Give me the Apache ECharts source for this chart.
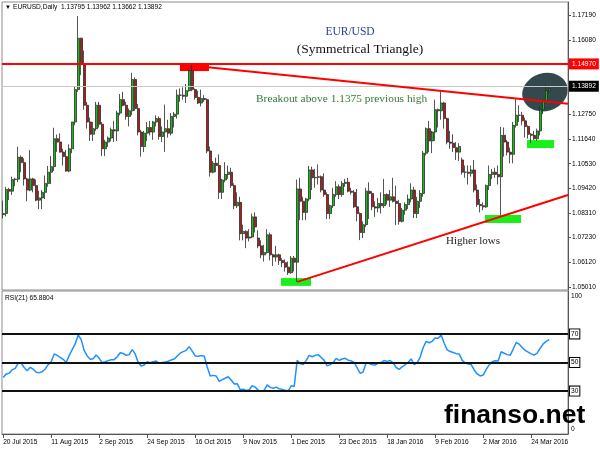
<!DOCTYPE html>
<html>
<head>
<meta charset="utf-8">
<script src="https://cdn.jsdelivr.net/npm/echarts@6/dist/echarts.min.js"></script>
<style>
  html, body { margin: 0; padding: 0; background: #fff; }
  #chart { width: 600px; height: 450px; }
</style>
</head>
<body>
<div id="chart"></div>
<script>
// date labels sit on these bar numbers
var tickBars = [0, 16, 32, 48, 64, 80, 96, 112, 128, 144, 160, 176];
var tickDates = ['20 Jul 2015', '11 Aug 2015', '2 Sep 2015', '24 Sep 2015', '16 Oct 2015', '9 Nov 2015',
  '1 Dec 2015', '23 Dec 2015', '18 Jan 2016', '9 Feb 2016', '2 Mar 2016', '24 Mar 2016'];
var priceTicks = [1.05010, 1.06120, 1.07230, 1.08310, 1.09420, 1.10530, 1.11640, 1.12750, 1.16080, 1.17190];

// daily EURUSD bars, 20 Jul 2015 .. 1 Apr 2016
var opens = [
  1.0825, 1.0830, 1.0938, 1.0930, 1.0982, 1.0984, 1.1082, 1.1058, 1.0985, 1.0935,
  1.0985, 1.0955, 1.0890, 1.0900, 1.0925, 1.0965, 1.1015, 1.1040, 1.1165, 1.1150,
  1.1105, 1.1085, 1.1020, 1.1120, 1.1240, 1.1385, 1.1615, 1.1500, 1.1315, 1.1240,
  1.1185, 1.1210, 1.1315, 1.1230, 1.1120, 1.1150, 1.1168, 1.1205, 1.1200, 1.1280,
  1.1340, 1.1315, 1.1265, 1.1290, 1.1430, 1.1300, 1.1195, 1.1130, 1.1190, 1.1215,
  1.1195, 1.1240, 1.1255, 1.1175, 1.1195, 1.1210, 1.1190, 1.1265, 1.1275, 1.1360,
  1.1360, 1.1355, 1.1380, 1.1470, 1.1385, 1.1350, 1.1325, 1.1345, 1.1340, 1.1110,
  1.1015, 1.1055, 1.1045, 1.0925, 1.0980, 1.1005, 1.1015, 1.0955, 1.0865, 1.0880,
  1.0740, 1.0750, 1.0720, 1.0725, 1.0815, 1.0720, 1.0685, 1.0645, 1.0655, 1.0735,
  1.0645, 1.0635, 1.0645, 1.0620, 1.0610, 1.0590, 1.0565, 1.0630, 1.0612, 1.0940,
  1.0885, 1.0835, 1.0895, 1.1025, 1.0990, 1.0992, 1.0995, 1.0935, 1.0915, 1.0830,
  1.0865, 1.0915, 1.0950, 1.0915, 1.0965, 1.0970, 1.0930, 1.0925, 1.0860, 1.0830,
  1.0745, 1.0780, 1.0930, 1.0920, 1.0860, 1.0855, 1.0875, 1.0865, 1.0915, 1.0890,
  1.0905, 1.0885, 1.0875, 1.0795, 1.0845, 1.0870, 1.0895, 1.0935, 1.0830, 1.0885,
  1.0920, 1.1100, 1.1210, 1.1155, 1.1195, 1.1295, 1.1290, 1.1325, 1.1255, 1.1150,
  1.1145, 1.1125, 1.1105, 1.1070, 1.1015, 1.1015, 1.1010, 1.1025, 1.0935, 1.0870,
  1.0865, 1.0860, 1.0955, 1.1005, 1.1015, 1.1005, 1.0995, 1.1180, 1.1150, 1.1105,
  1.1095, 1.1225, 1.1270, 1.1270, 1.1245, 1.1220, 1.1185, 1.1180, 1.1165, 1.1200,
  1.1295, 1.1335, 1.13795
];
var highs = [
  1.0888, 1.0950, 1.0945, 1.0995, 1.0990, 1.1129, 1.1090, 1.1077, 1.0990, 1.1114,
  1.0990, 1.0982, 1.0932, 1.0935, 1.1000, 1.1043, 1.1088, 1.1214, 1.1184, 1.1189,
  1.1120, 1.1115, 1.1140, 1.1240, 1.1400, 1.1714, 1.1617, 1.1560, 1.1330, 1.1260,
  1.1240, 1.1330, 1.1330, 1.1240, 1.1160, 1.1175, 1.1215, 1.1245, 1.1290, 1.1365,
  1.1375, 1.1330, 1.1300, 1.1460, 1.1440, 1.1320, 1.1205, 1.1200, 1.1240, 1.1245,
  1.1245, 1.1270, 1.1265, 1.1220, 1.1318, 1.1250, 1.1280, 1.1285, 1.1385, 1.1390,
  1.1395, 1.1410, 1.1475, 1.1495, 1.1390, 1.1380, 1.1385, 1.1360, 1.1345, 1.1130,
  1.1065, 1.1080, 1.1095, 1.0985, 1.1060, 1.1045, 1.1035, 1.0965, 1.0925, 1.0905,
  1.0780, 1.0755, 1.0760, 1.0830, 1.0835, 1.0755, 1.0710, 1.0690, 1.0760, 1.0745,
  1.0650, 1.0685, 1.0650, 1.0630, 1.0625, 1.0615, 1.0640, 1.0640, 1.0982, 1.0990,
  1.0905, 1.0900, 1.1043, 1.1040, 1.1030, 1.1050, 1.1000, 1.1010, 1.0925, 1.0870,
  1.0945, 1.0975, 1.0960, 1.0975, 1.0985, 1.0990, 1.0945, 1.0935, 1.0940, 1.0835,
  1.0795, 1.0945, 1.0970, 1.0930, 1.0885, 1.0900, 1.0925, 1.0985, 1.0920, 1.0935,
  1.0990, 1.0955, 1.0890, 1.0855, 1.0880, 1.0915, 1.0965, 1.0950, 1.0905, 1.0935,
  1.1110, 1.1215, 1.1245, 1.1200, 1.1340, 1.1300, 1.1376, 1.1330, 1.1260, 1.1200,
  1.1185, 1.1150, 1.1145, 1.1080, 1.1045, 1.1045, 1.1045, 1.1070, 1.0960, 1.0895,
  1.0880, 1.0960, 1.1045, 1.1030, 1.1035, 1.1045, 1.1218, 1.1215, 1.1160, 1.1125,
  1.1240, 1.1342, 1.1315, 1.1285, 1.1260, 1.1225, 1.1190, 1.1200, 1.1210, 1.1310,
  1.1340, 1.1410, 1.13962
];
var lows = [
  1.0808, 1.0817, 1.0890, 1.0913, 1.0952, 1.0970, 1.1015, 1.0955, 1.0885, 1.0930,
  1.0925, 1.0885, 1.0850, 1.0850, 1.0895, 1.0950, 1.0962, 1.1020, 1.1106, 1.1103,
  1.1045, 1.1018, 1.1015, 1.1100, 1.1225, 1.1375, 1.1450, 1.1295, 1.1210, 1.1155,
  1.1155, 1.1200, 1.1215, 1.1087, 1.1087, 1.1128, 1.1153, 1.1150, 1.1155, 1.1270,
  1.1310, 1.1250, 1.1220, 1.1270, 1.1290, 1.1180, 1.1085, 1.1105, 1.1155, 1.1180,
  1.1160, 1.1220, 1.1160, 1.1150, 1.1106, 1.1170, 1.1180, 1.1215, 1.1255, 1.1330,
  1.1340, 1.1325, 1.1375, 1.1378, 1.1340, 1.1320, 1.1310, 1.1330, 1.1100, 1.0995,
  1.1010, 1.1015, 1.0895, 1.0895, 1.0970, 1.0985, 1.0945, 1.0850, 1.0855, 1.0710,
  1.0710, 1.0675, 1.0705, 1.0720, 1.0745, 1.0675, 1.0630, 1.0615, 1.0650, 1.0620,
  1.0595, 1.0615, 1.0600, 1.0590, 1.0570, 1.0555, 1.0560, 1.0570, 1.0524, 1.0800,
  1.0800, 1.0800, 1.0885, 1.0935, 1.0945, 1.0960, 1.0925, 1.0905, 1.0805, 1.0805,
  1.0855, 1.0905, 1.0895, 1.0905, 1.0950, 1.0925, 1.0915, 1.0855, 1.0795, 1.0711,
  1.0720, 1.0770, 1.0805, 1.0845, 1.0815, 1.0835, 1.0830, 1.0855, 1.0870, 1.0860,
  1.0880, 1.0778, 1.0780, 1.0790, 1.0825, 1.0850, 1.0880, 1.0810, 1.0810, 1.0855,
  1.0905, 1.1090, 1.1105, 1.1100, 1.1155, 1.1215, 1.1250, 1.1210, 1.1140, 1.1120,
  1.1105, 1.1070, 1.1065, 1.1005, 1.0990, 1.0960, 1.0995, 1.0925, 1.0860, 1.0835,
  1.0845, 1.0855, 1.0935, 1.0985, 1.0990, 1.0960, 1.0822, 1.1085, 1.1090, 1.1055,
  1.1055, 1.1215, 1.1240, 1.1225, 1.1170, 1.1165, 1.1145, 1.1160, 1.1155, 1.1180,
  1.1275, 1.1325, 1.13662
];
var closes = [
  1.0830, 1.0938, 1.0930, 1.0982, 1.0984, 1.1082, 1.1058, 1.0985, 1.0935, 1.0985,
  1.0955, 1.0890, 1.0900, 1.0925, 1.0965, 1.1015, 1.1040, 1.1165, 1.1150, 1.1105,
  1.1085, 1.1020, 1.1120, 1.1240, 1.1385, 1.1615, 1.1500, 1.1315, 1.1240, 1.1185,
  1.1210, 1.1315, 1.1230, 1.1120, 1.1150, 1.1168, 1.1205, 1.1200, 1.1280, 1.1340,
  1.1315, 1.1265, 1.1290, 1.1430, 1.1300, 1.1195, 1.1130, 1.1190, 1.1215, 1.1195,
  1.1240, 1.1255, 1.1175, 1.1195, 1.1210, 1.1190, 1.1265, 1.1275, 1.1360, 1.1360,
  1.1355, 1.1380, 1.1470, 1.1385, 1.1350, 1.1325, 1.1345, 1.1340, 1.1110, 1.1015,
  1.1055, 1.1045, 1.0925, 1.0980, 1.1005, 1.1015, 1.0955, 1.0865, 1.0880, 1.0740,
  1.0750, 1.0720, 1.0725, 1.0815, 1.0770, 1.0685, 1.0645, 1.0655, 1.0735, 1.0645,
  1.0635, 1.0645, 1.0620, 1.0610, 1.0590, 1.0565, 1.0630, 1.0612, 1.0940, 1.0885,
  1.0835, 1.0895, 1.1025, 1.0990, 1.0992, 1.0995, 1.0935, 1.0915, 1.0830, 1.0865,
  1.0915, 1.0950, 1.0915, 1.0965, 1.0970, 1.0930, 1.0925, 1.0860, 1.0830, 1.0745,
  1.0780, 1.0930, 1.0920, 1.0860, 1.0855, 1.0875, 1.0865, 1.0915, 1.0890, 1.0905,
  1.0885, 1.0875, 1.0795, 1.0845, 1.0870, 1.0895, 1.0935, 1.0830, 1.0885, 1.0920,
  1.1100, 1.1210, 1.1155, 1.1195, 1.1295, 1.1290, 1.1325, 1.1255, 1.1150, 1.1145,
  1.1125, 1.1105, 1.1130, 1.1015, 1.1015, 1.1010, 1.1025, 1.0935, 1.0870, 1.0865,
  1.0860, 1.0955, 1.1005, 1.1015, 1.1005, 1.0995, 1.1180, 1.1150, 1.1105, 1.1095,
  1.1225, 1.1270, 1.1270, 1.1245, 1.1220, 1.1185, 1.1180, 1.1165, 1.1200, 1.1295,
  1.1335, 1.1380, 1.13892
];
// RSI(21), one reading per bar
var rsi = [
  39.5, 42, 42.5, 45, 45.9, 49.5, 49.5, 46.5, 44.2, 46.6,
  45.3, 43.2, 42.9, 43.5, 45.5, 48.5, 50.5, 56, 55, 53.5,
  52.2, 50, 55, 59, 63, 69.3, 66, 58.3, 54.6, 52.3,
  52.6, 55.2, 52.9, 49.8, 50.5, 51.3, 51.9, 52, 54, 56.8,
  56.3, 55, 55.5, 59, 56, 50, 47.5, 48.3, 50.5, 49.8,
  50.6, 51, 49.6, 50, 50.4, 50.9, 51.8, 52.5, 54.5, 56.5,
  57.6, 58.5, 61.1, 58, 54.6, 54.3, 54.8, 54.5, 47, 40.5,
  41, 40.5, 36.8, 38, 39, 40, 37.8, 35, 35.2, 31,
  31.3, 30.4, 31, 33.7, 32.8, 30.7, 30, 30.6, 34.4, 32.6,
  32, 32.8, 31.6, 31.2, 30.6, 30.2, 33.7, 33.2, 51.5, 49.2,
  48.5, 51.5, 55, 54, 55, 55.5, 53.5, 51.5, 47.6, 48.5,
  50, 52.9, 51.4, 52.5, 52.9, 51.6, 51.2, 50, 46.3, 42.4,
  43.5, 50, 49.3, 48.5, 48.2, 49.5, 50, 51.4, 50.8, 51.4,
  49.6, 46.5, 45.2, 47, 48.5, 50.2, 52.5, 48.5, 49.8, 53.8,
  60.5, 64.8, 63.8, 64.8, 67.1, 67, 69.3, 63.5, 58.8, 57.7,
  57, 56.2, 56, 51.5, 49.8, 49, 48.5, 44.8, 42, 40.6,
  41.2, 45.2, 48.3, 50.5, 51.2, 51, 57.5, 56.5, 55.5, 55,
  59.4, 64, 62.8, 60.5, 58.5, 57.2, 56, 55.2, 56.5, 60,
  63, 64.8, 65.88
];
var rsiLevels = [70, 50, 30];

var resistance = 1.1497;
var lastPrice = 1.13892;
// trend lines as [bar, price] end points
var fallingLine = [[68.2, 1.1485], [188.27, 1.1322]];
var risingLine = [[98, 1.0524], [188.27, 1.0913]];
// highlight boxes as [bar from, price top, bar to, price bottom]
var redBox = [58.9, 1.1504, 68.6, 1.1468];
var greenBoxes = [
  [92.6, 1.0541, 102.6, 1.0506],
  [160.6, 1.0823, 172.6, 1.0788],
  [174.6, 1.1159, 183.6, 1.1123]
];
var circleAt = [180.6, 1.1374];

var chart = echarts.init(document.getElementById('chart'));

var candles = opens.map(function (o, i) { return [i, o, closes[i], lows[i], highs[i]]; });
var rsiData = rsi.map(function (v, i) { return [i, v]; });

var small = 6.6;
var sans = '"Liberation Sans", Arial, sans-serif';
var serif = '"Liberation Serif", "Times New Roman", serif';

function boxArea (b, color) {
  return [
    { coord: [b[0], b[1]], itemStyle: { color: color, opacity: 1 } },
    { coord: [b[2], b[3]] }
  ];
}

var areas = [boxArea(redBox, '#ff0000')];
greenBoxes.forEach(function (b) { areas.push(boxArea(b, '#19f019')); });

function priceTag (value, bg) {
  return {
    yAxis: value,
    lineStyle: { color: bg === '#000' ? '#c8c8c8' : '#ff0000', width: bg === '#000' ? 1 : 2, type: 'solid' },
    label: {
      show: true,
      position: 'end',
      distance: 1,
      formatter: value.toFixed(5),
      color: '#fff',
      backgroundColor: bg,
      padding: [2, 3],
      fontSize: small,
      fontFamily: sans
    }
  };
}

var redLine = { color: '#ff0000', width: 2, type: 'solid' };

var option = {
  animation: false,
  backgroundColor: '#fff',
  grid: [
    { left: 2, top: 2, width: 566, height: 288, show: true, borderColor: '#8c8c8c', borderWidth: 1, outerBoundsMode: 'none' },
    { left: 2, top: 291, width: 566, height: 143, show: true, borderColor: '#8c8c8c', borderWidth: 1, outerBoundsMode: 'none' }
  ],
  xAxis: [
    { type: 'value', gridIndex: 0, min: -0.4, max: 188.27, show: false },
    {
      type: 'value', gridIndex: 1, min: -0.4, max: 188.27,
      splitLine: { show: false },
      axisLine: { onZero: false, lineStyle: { color: '#555' } },
      axisTick: { customValues: tickBars, length: 4, lineStyle: { color: '#555' } },
      axisLabel: {
        customValues: tickBars,
        formatter: function (v) { return tickDates[tickBars.indexOf(Math.round(v))] || ''; },
        align: 'left',
        margin: 5,
        fontSize: small,
        fontFamily: sans,
        color: '#000'
      }
    }
  ],
  yAxis: [
    {
      type: 'value', gridIndex: 0, position: 'right', min: 1.04876, max: 1.17772,
      splitLine: { show: false },
      axisLine: { show: true, onZero: false, lineStyle: { color: '#555' } },
      axisTick: { show: true, customValues: priceTicks, length: 3, lineStyle: { color: '#555' } },
      axisLabel: {
        customValues: priceTicks,
        formatter: function (v) { return v.toFixed(5); },
        margin: 4,
        fontSize: small,
        fontFamily: sans,
        color: '#000'
      }
    },
    {
      type: 'value', gridIndex: 1, position: 'right', min: 0, max: 100,
      splitLine: { show: false },
      axisLine: { show: true, onZero: false, lineStyle: { color: '#555' } },
      axisTick: { show: false },
      axisLabel: {
        customValues: [0, 100],
        formatter: function (v) { return v === 100 ? '{top|100}' : '{bot|0}'; },
        margin: 3,
        color: '#000',
        fontSize: small,
        fontFamily: sans,
        rich: {
          top: { padding: [10, 0, 0, 0], fontSize: small, fontFamily: sans, color: '#000' },
          bot: { padding: [0, 0, 9, 0], fontSize: small, fontFamily: sans, color: '#000' }
        }
      }
    }
  ],
  series: [
    {
      type: 'candlestick',
      xAxisIndex: 0,
      yAxisIndex: 0,
      z: 3,
      data: candles,
      barWidth: 2.4,
      itemStyle: {
        color: '#12c012',
        color0: '#c01515',
        borderColor: '#2b2b2b',
        borderColor0: '#2b2b2b',
        borderWidth: 0.8
      },
      markArea: { silent: true, data: areas },
      markLine: {
        silent: true,
        symbol: ['none', 'none'],
        label: { show: false },
        data: [
          priceTag(lastPrice, '#000'),
          priceTag(resistance, '#ff0000'),
          [{ coord: fallingLine[0], lineStyle: redLine }, { coord: fallingLine[1] }],
          [{ coord: risingLine[0], lineStyle: redLine }, { coord: risingLine[1] }]
        ]
      }
    },
    {
      type: 'line',
      xAxisIndex: 1,
      yAxisIndex: 1,
      data: rsiData,
      showSymbol: false,
      lineStyle: { color: '#1e90ff', width: 1.5 },
      markLine: {
        silent: true,
        symbol: ['none', 'none'],
        data: rsiLevels.map(function (v) {
          return {
            yAxis: v,
            lineStyle: { color: '#111', width: 2, type: 'solid' },
            label: {
              show: true, position: 'end', distance: 2, formatter: String(v),
              color: '#000', backgroundColor: '#fff', borderColor: '#000', borderWidth: 1,
              padding: [1, 1], fontSize: small, fontFamily: sans
            }
          };
        })
      }
    }
  ]
};

chart.setOption(option);

var c = chart.convertToPixel({ xAxisIndex: 0, yAxisIndex: 0 }, circleAt);

chart.setOption({
  graphic: [
    { type: 'ellipse', x: c[0], y: c[1], rotation: 0.3, shape: { cx: 0, cy: 0, rx: 23, ry: 19 }, style: { fill: '#34494d' }, z: -1, silent: true },
    { type: 'text', x: 5, y: 7, z: 10, style: { text: '\u25BC', font: '6px ' + sans, fill: '#000', verticalAlign: 'middle' } },
    { type: 'text', x: 13, y: 7, z: 10, style: { text: 'EURUSD,Daily  1.13795 1.13962 1.13662 1.13892', font: small + 'px ' + sans, fill: '#000', verticalAlign: 'middle' } },
    { type: 'text', x: 350, y: 32, z: 10, style: { text: 'EUR/USD', font: '11.5px ' + serif, fill: '#2a3f9b', align: 'center', verticalAlign: 'middle' } },
    { type: 'text', x: 360, y: 49, z: 10, style: { text: '(Symmetrical Triangle)', font: '13.5px ' + serif, fill: '#111', align: 'center', verticalAlign: 'middle' } },
    { type: 'text', x: 256, y: 99, z: 10, style: { text: 'Breakout above 1.1375 previous high', font: '11.4px ' + serif, fill: '#2f7d2f', verticalAlign: 'middle' } },
    { type: 'text', x: 446, y: 241, z: 10, style: { text: 'Higher lows', font: '11px ' + serif, fill: '#1a1a1a', verticalAlign: 'middle' } },
    { type: 'text', x: 5, y: 298, z: 10, style: { text: 'RSI(21) 65.8804', font: small + 'px ' + sans, fill: '#000', verticalAlign: 'middle' } },
    { type: 'text', x: 444, y: 429, z: 10, style: { text: 'finanso.net', font: 'bold 26.5px ' + sans, fill: '#000', verticalAlign: 'bottom' } }
  ]
});
</script>
</body>
</html>
